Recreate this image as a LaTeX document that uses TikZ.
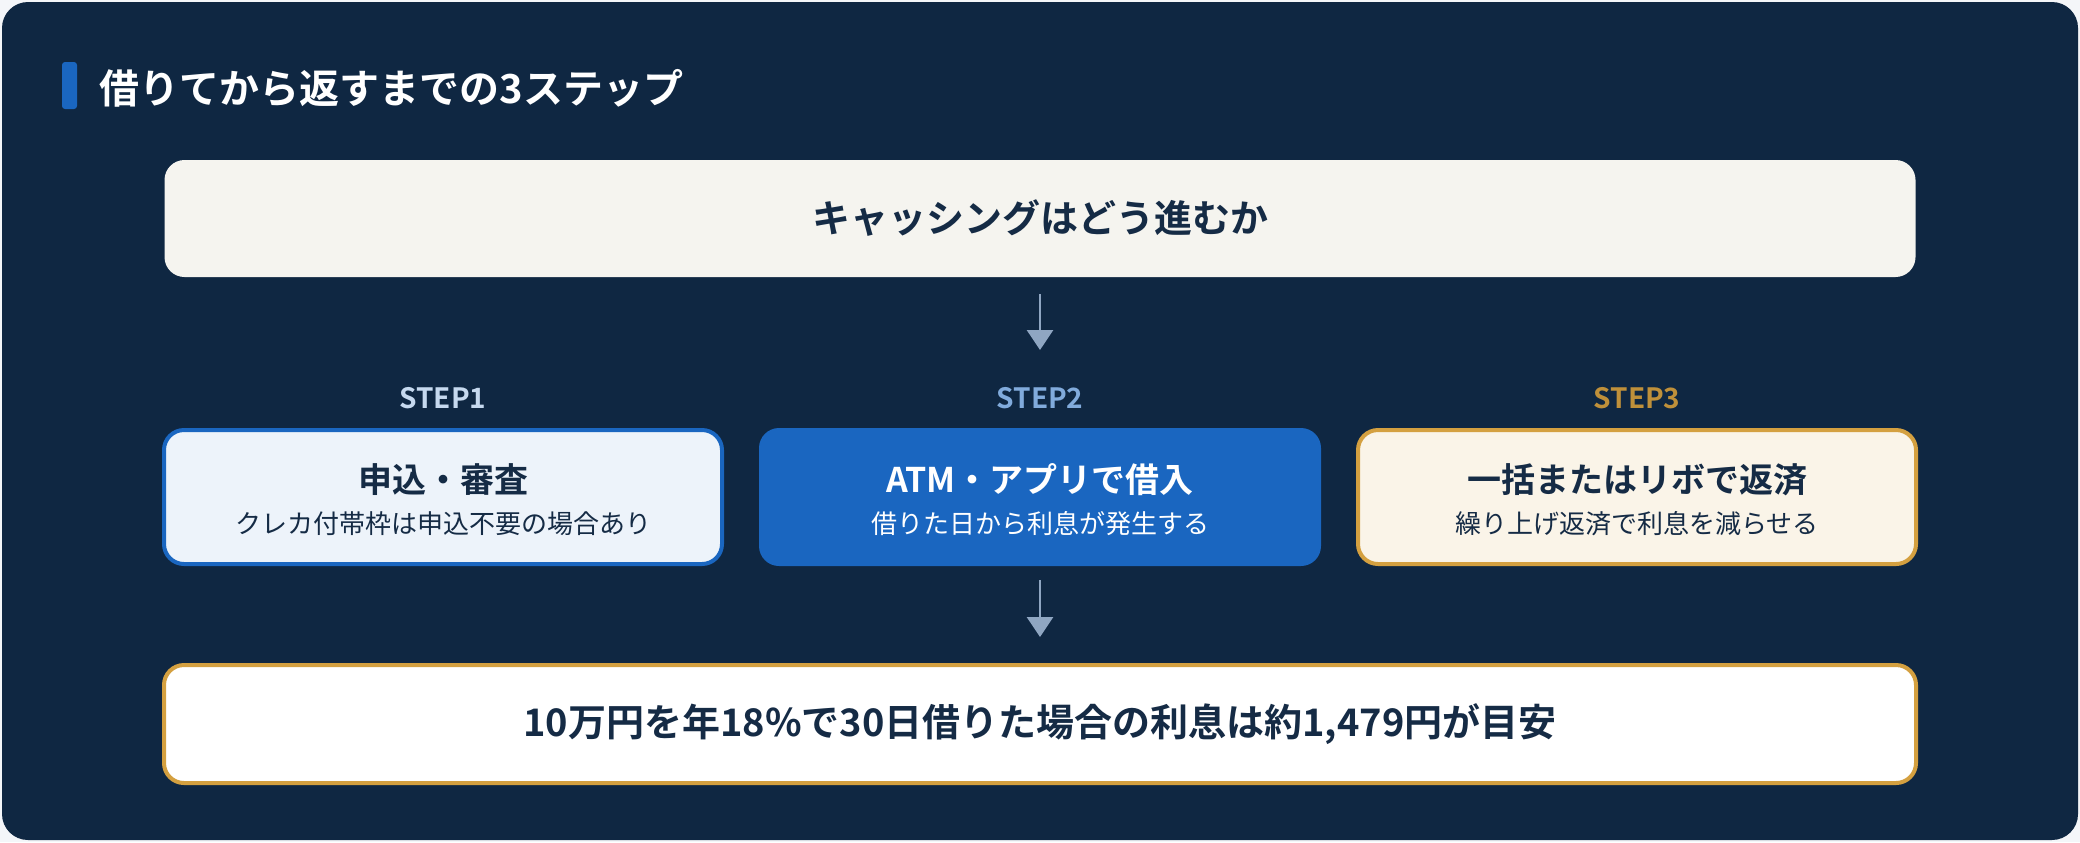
\documentclass[tikz,border=0pt]{standalone}
\usepackage{fontspec}
\setmainfont{Noto Sans CJK JP}
\newfontfamily\jpb{Noto Sans CJK JP Bold}
\usetikzlibrary{arrows.meta}
\definecolor{navy}{HTML}{0F2742}
\definecolor{ink}{HTML}{152B45}
\definecolor{blu}{HTML}{1A66C0}
\definecolor{gold}{HTML}{D4A040}
\definecolor{arr}{HTML}{8FA6C2}
\definecolor{cream}{HTML}{F5F4EF}
\begin{document}
\begin{tikzpicture}[x=0.5pt,y=-0.5pt,
  box/.style={rounded corners=10pt,inner sep=0pt,align=center,text=ink},
  arrow/.style={draw=arr,line width=1.4pt,-{Triangle[width=13pt,length=10pt]}},
  steplbl/.style={font=\jpb\fontsize{14pt}{16pt}\selectfont},
  ttl/.style={font=\jpb\fontsize{17pt}{20pt}\selectfont},
  sub/.style={font=\fontsize{13pt}{16pt}\selectfont}]
\useasboundingbox (0,0) rectangle (2080,842);
\fill[white!90!arr] (0,0) rectangle (2080,842);
\fill[navy,rounded corners=13pt] (2,2) rectangle (2078,840);
\fill[blu,rounded corners=1.5pt] (62,62) rectangle (77,109);
\node[anchor=west,text=white,font=\jpb\fontsize{20pt}{24pt}\selectfont,inner sep=0pt] (title) at (99,88) {借りてから返すまでの3ステップ};
\node[box,fill=cream,minimum width=875.5pt,minimum height=58.5pt,font=\jpb\fontsize{19pt}{22pt}\selectfont] (top) at (1040,218.5) {キャッシングはどう進むか};
\coordinate (a1s) at (1040,294); \coordinate (a1e) at (1040,350);
\draw[arrow] (a1s) -- (a1e);
\node[steplbl,text=blu!25!white] (s1) at (443,398) {STEP1};
\node[steplbl,text=blu!55!white] (s2) at (1040,398) {STEP2};
\node[steplbl,text=gold!90!black] (s3) at (1637,398) {STEP3};
\node[box,fill=blu!8!white,draw=blu,line width=2pt,minimum width=279pt,minimum height=67pt] (b1) at (443,497) {};
\node[box,fill=blu,minimum width=281pt,minimum height=69pt] (b2) at (1040,497) {};
\node[box,fill=gold!12!white,draw=gold,line width=2pt,minimum width=279pt,minimum height=67pt] (b3) at (1637,497) {};
\node[ttl,text=ink] (t1) at (443,480) {申込・審査};
\node[sub,text=ink] (u1) at (443,524) {クレカ付帯枠は申込不要の場合あり};
\node[ttl,text=white] (t2) at (1040,480) {ATM・アプリで借入};
\node[sub,text=white] (u2) at (1040,524) {借りた日から利息が発生する};
\node[ttl,text=ink] (t3) at (1637,480) {一括またはリボで返済};
\node[sub,text=ink] (u3) at (1637,524) {繰り上げ返済で利息を減らせる};
\coordinate (a2s) at (1040,580); \coordinate (a2e) at (1040,637);
\draw[arrow] (a2s) -- (a2e);
\node[box,fill=white,draw=gold,line width=2pt,minimum width=876pt,minimum height=59pt,font=\jpb\fontsize{19pt}{22pt}\selectfont] (bot) at (1040,724) {10万円を年18\%で30日借りた場合の利息は約1,479円が目安};
\end{tikzpicture}
\end{document}
